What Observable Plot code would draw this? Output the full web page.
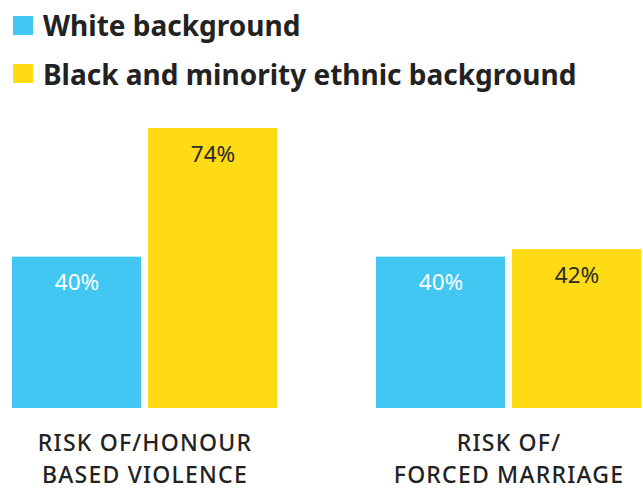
<!DOCTYPE html>
<html>
<head>
<meta charset="utf-8">
<script src="https://cdn.jsdelivr.net/npm/d3@7"></script>
<script src="https://cdn.jsdelivr.net/npm/@observablehq/plot@0.6"></script>
<style>
  html, body { margin: 0; padding: 0; background: #fff; }
  body { width: 643px; height: 488px; overflow: hidden; font-family: "Noto Sans", sans-serif; }
  #legend { height: 100px; box-sizing: border-box; padding-top: 1px; }
  .item { display: flex; align-items: center; height: 48.5px; font-size: 28px; font-weight: 700; color: #222; }
  .sw { width: 20px; height: 19px; margin-left: 13px; margin-right: 10px; flex: none; }
  #chart svg { display: block; }
  #chart svg g[font-size="23"] { letter-spacing: 1.2px; }
</style>
</head>
<body>
<div id="legend"></div>
<div id="chart"></div>
<script>
const categories = ["RISK OF/HONOUR\nBASED VIOLENCE", "RISK OF/\nFORCED MARRIAGE"];
const series = ["White background", "Black and minority ethnic background"];
const colors = ["#42C7F3", "#FEDB14"];
const labelColors = ["#ffffff", "#2a2a2a"];
const whiteValues = [40, 40];
const bmeValues = [74, 42];

const data = [];
categories.forEach((c, i) => {
  data.push({category: c, series: series[0], value: whiteValues[i]});
  data.push({category: c, series: series[1], value: bmeValues[i]});
});

const legend = document.getElementById("legend");
series.forEach((s, i) => {
  const d = document.createElement("div");
  d.className = "item";
  d.innerHTML = `<span class="sw" style="background:${colors[i]}"></span><span>${s}</span>`;
  legend.appendChild(d);
});

const chart = Plot.plot({
  width: 643,
  height: 388,
  marginTop: 28,
  marginBottom: 80,
  marginLeft: 12,
  marginRight: 2,
  style: {fontFamily: "Noto Sans, sans-serif", background: "#fff"},
  fx: {domain: categories, paddingInner: 99 / 364, paddingOuter: 0, label: null, axis: null},
  x: {domain: series, paddingInner: 7 / 136, paddingOuter: 0, axis: null},
  y: {domain: [0, 74], axis: null},
  color: {domain: series, range: colors},
  marks: [
    Plot.barY(data, {fx: "category", x: "series", y: "value", fill: "series"}),
    Plot.text(data, {
      fx: "category", x: "series", y: "value",
      text: d => d.value + "%",
      dy: 26,
      fontSize: 22.5,
      fill: d => labelColors[series.indexOf(d.series)],
      lineAnchor: "middle"
    }),
    Plot.text(categories, {
      fx: d => d,
      text: d => d,
      frameAnchor: "bottom",
      lineAnchor: "top",
      dy: 19,
      fontSize: 23,
      fontWeight: 500,
      lineHeight: 1.42,
      fill: "#222"
    })
  ]
});
document.getElementById("chart").appendChild(chart);
</script>
</body>
</html>
